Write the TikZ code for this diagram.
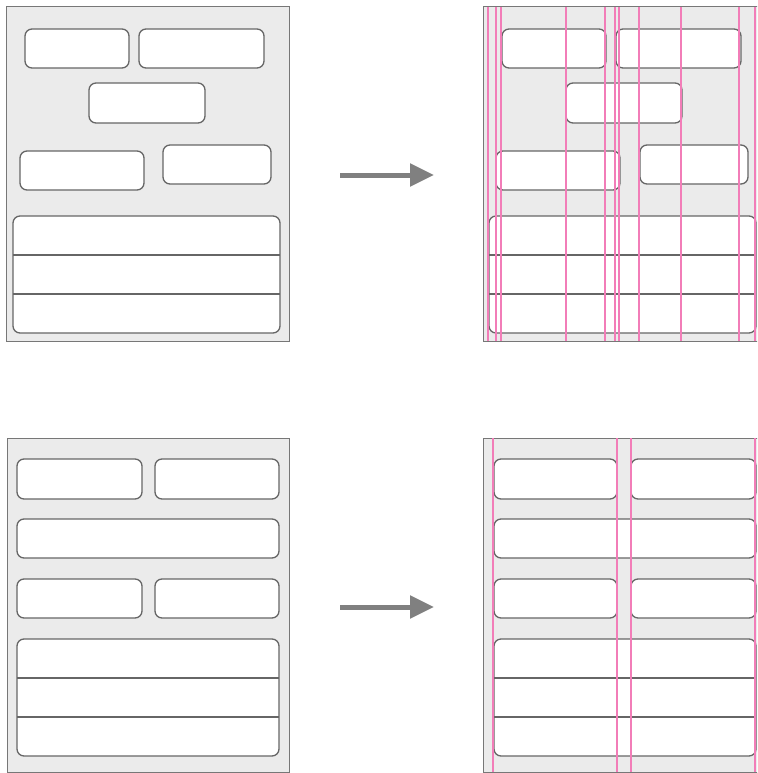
\documentclass[tikz,border=0pt]{standalone}
\usetikzlibrary{arrows.meta}
\definecolor{panelfill}{HTML}{EBEBEB}
\definecolor{paneldraw}{HTML}{777777}
\definecolor{boxdraw}{HTML}{666666}
\definecolor{guidepink}{HTML}{F27DB8}
\definecolor{arrowgray}{HTML}{808080}
\tikzset{
  panel/.style={draw=paneldraw, fill=panelfill, line width=1pt, inner sep=0pt, outer sep=0pt, anchor=north west},
  rbox/.style={draw=boxdraw, fill=white, line width=1.3pt, rounded corners=7pt, inner sep=0pt, outer sep=0pt, anchor=north west},
  divider/.style={draw=boxdraw, line width=1.3pt},
  guide/.style={draw=guidepink, line width=1.2pt},
  bigarrow/.style={draw=arrowgray, line width=5pt, -{Triangle[length=24pt,width=22pt]}}
}
\newcommand{\mkpanel}[5]{\node[panel, minimum width={(#4-#2)*1pt}, minimum height={(#5-#3)*1pt}] (#1) at (#2,#3) {};}
\newcommand{\mkbox}[5]{\node[rbox, minimum width={(#4-#2)*1pt}, minimum height={(#5-#3)*1pt}] (#1) at (#2,#3) {};}
\newcommand{\mkguide}[2]{\draw[guide] (#1.north -| #2,0) -- (#1.south -| #2,0);}
\begin{document}
\begin{tikzpicture}[x=1pt,y=-1pt]
\useasboundingbox (0,0) rectangle (757,773);
\clip (0,0) rectangle (757,773);
% ---------- top-left panel ----------
\mkpanel{p1}{6}{7}{289}{341}
\mkbox{a1}{25}{29}{129}{68}
\mkbox{b1}{139}{29}{264}{68}
\mkbox{c1}{89}{83}{205}{123}
\mkbox{d1}{20}{151}{144}{190}
\mkbox{e1}{163}{145}{271}{184}
\mkbox{f1}{13}{216}{280}{333}
\draw[divider] (f1.west |- 0,255) -- (f1.east |- 0,255);
\draw[divider] (f1.west |- 0,294) -- (f1.east |- 0,294);
% ---------- top-right panel ----------
\mkpanel{p2}{483}{7}{766}{341}
\mkbox{a2}{502}{29}{606}{68}
\mkbox{b2}{616}{29}{741}{68}
\mkbox{c2}{566}{83}{682}{123}
\mkbox{d2}{496}{151}{620}{190}
\mkbox{e2}{640}{145}{748}{184}
\mkbox{f2}{489}{216}{756}{333}
\draw[divider] (f2.west |- 0,255) -- (f2.east |- 0,255);
\draw[divider] (f2.west |- 0,294) -- (f2.east |- 0,294);
\mkguide{p2}{488}
\mkguide{p2}{496}
\mkguide{p2}{501}
\mkguide{p2}{566}
\mkguide{p2}{605}
\mkguide{p2}{615}
\mkguide{p2}{619}
\mkguide{p2}{639}
\mkguide{p2}{681}
\mkguide{p2}{739}
\mkguide{p2}{755}
% ---------- bottom-left panel ----------
\mkpanel{p3}{7}{438}{289}{772}
\mkbox{g3}{17}{459}{142}{499}
\mkbox{h3}{155}{459}{279}{499}
\mkbox{i3}{17}{519}{279}{558}
\mkbox{j3}{17}{579}{142}{618}
\mkbox{k3}{155}{579}{279}{618}
\mkbox{l3}{17}{639}{279}{756}
\draw[divider] (l3.west |- 0,678) -- (l3.east |- 0,678);
\draw[divider] (l3.west |- 0,717) -- (l3.east |- 0,717);
% ---------- bottom-right panel ----------
\mkpanel{p4}{483}{438}{766}{772}
\mkbox{g4}{494}{459}{617}{499}
\mkbox{h4}{631}{459}{756}{499}
\mkbox{i4}{494}{519}{756}{558}
\mkbox{j4}{494}{579}{617}{618}
\mkbox{k4}{631}{579}{756}{618}
\mkbox{l4}{494}{639}{756}{756}
\draw[divider] (l4.west |- 0,678) -- (l4.east |- 0,678);
\draw[divider] (l4.west |- 0,717) -- (l4.east |- 0,717);
\mkguide{p4}{493}
\mkguide{p4}{617}
\mkguide{p4}{631}
\mkguide{p4}{755}
% ---------- arrows ----------
\coordinate (s1) at (340,175);
\coordinate (t1) at (434,175);
\coordinate (s2) at (340,607);
\coordinate (t2) at (434,607);
\draw[bigarrow] (s1) -- (t1);
\draw[bigarrow] (s2) -- (t2);
\end{tikzpicture}
\end{document}
